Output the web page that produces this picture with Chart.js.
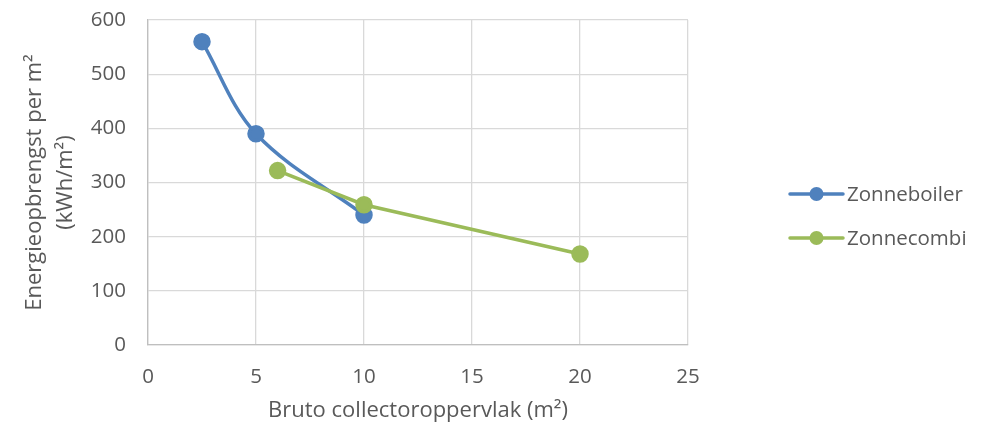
<!DOCTYPE html>
<html>
<head>
<meta charset="utf-8">
<script src="https://cdn.jsdelivr.net/npm/chart.js@4/dist/chart.umd.min.js"></script>
<style>
  html, body { margin: 0; padding: 0; background: #fff; }
  #wrap { width: 995px; height: 429px; }
</style>
</head>
<body>
<div id="wrap"><canvas id="c" width="995" height="429"></canvas></div>
<script>
// Collector area (m²) and yearly yield per m² (kWh/m²)
const seriesNames = ['Zonneboiler', 'Zonnecombi'];
const boilerArea = [2.5, 5, 10];
const boilerYield = [560, 390, 240];
const combiArea = [6, 10, 20];
const combiYield = [322, 259, 168];
const xTicks = [0, 5, 10, 15, 20, 25];
const yTicks = [0, 100, 200, 300, 400, 500, 600];

const colors = ['#4F81BD', '#9BBB59'];
const textColor = '#595959';
const fontFamily = "'Open Sans', 'Liberation Sans', sans-serif";

const toPoints = (xs, ys) => xs.map((x, i) => ({ x, y: ys[i] }));

// Legend to the right: short line with a marker in the middle, then the name
const sideLegend = {
  id: 'sideLegend',
  afterDraw(chart) {
    const ctx = chart.ctx;
    const x0 = 790, x1 = 843, startY = 194, gap = 44;
    chart.data.datasets.forEach((ds, i) => {
      const y = startY + i * gap;
      ctx.save();
      ctx.strokeStyle = ds.borderColor;
      ctx.lineWidth = 3.5;
      ctx.lineCap = 'round';
      ctx.beginPath();
      ctx.moveTo(x0, y);
      ctx.lineTo(x1, y);
      ctx.stroke();
      ctx.fillStyle = ds.pointBackgroundColor;
      ctx.beginPath();
      ctx.arc((x0 + x1) / 2, y, 7, 0, Math.PI * 2);
      ctx.fill();
      ctx.fillStyle = textColor;
      ctx.font = '20.5px ' + fontFamily;
      ctx.textBaseline = 'middle';
      ctx.textAlign = 'left';
      ctx.fillText(ds.label, x1 + 4, y + 1);
      ctx.restore();
    });
  }
};

new Chart(document.getElementById('c'), {
  type: 'scatter',
  data: {
    datasets: [
      {
        label: seriesNames[0],
        data: toPoints(boilerArea, boilerYield),
        showLine: true,
        tension: 0.35,
        borderColor: colors[0],
        backgroundColor: colors[0],
        pointBackgroundColor: colors[0],
        pointBorderColor: colors[0],
        borderWidth: 3.5,
        pointRadius: 7,
        pointHoverRadius: 7,
        order: 2
      },
      {
        label: seriesNames[1],
        data: toPoints(combiArea, combiYield),
        showLine: true,
        tension: 0,
        borderColor: colors[1],
        backgroundColor: colors[1],
        pointBackgroundColor: colors[1],
        pointBorderColor: colors[1],
        borderWidth: 3.5,
        pointRadius: 7,
        pointHoverRadius: 7,
        order: 1
      }
    ]
  },
  options: {
    responsive: false,
    animation: false,
    devicePixelRatio: 1,
    layout: { padding: { top: 20, right: 307, left: 0, bottom: 0 } },
    plugins: {
      legend: { display: false },
      tooltip: { enabled: false }
    },
    scales: {
      x: {
        type: 'linear',
        min: 0,
        max: 25,
        afterBuildTicks(axis) { axis.ticks = xTicks.map(v => ({ value: v })); },
        afterFit(axis) { axis.height = 84; },
        grid: { color: '#D9D9D9', lineWidth: 1.3, drawTicks: false },
        border: { color: '#BFBFBF', width: 1.3 },
        ticks: {
          color: textColor,
          font: { family: fontFamily, size: 20.5 },
          padding: 20,
          maxRotation: 0
        },
        title: {
          display: true,
          text: 'Bruto collectoroppervlak (m²)',
          color: textColor,
          font: { family: fontFamily, size: 22 },
          padding: { top: 0, bottom: 5 }
        }
      },
      y: {
        type: 'linear',
        min: 0,
        max: 600,
        afterBuildTicks(axis) { axis.ticks = yTicks.map(v => ({ value: v })); },
        afterFit(axis) {
          axis.width = 148;
          // the top label only needs half its own height above the plot
          axis.paddingTop = 12;
        },
        grid: { color: '#D9D9D9', lineWidth: 1.3, drawTicks: false },
        border: { color: '#BFBFBF', width: 1.3 },
        ticks: {
          color: textColor,
          font: { family: fontFamily, size: 20.5 },
          padding: 22
        },
        title: {
          display: true,
          text: ['Energieopbrengst per m²', '(kWh/m²)'],
          color: textColor,
          font: { family: fontFamily, size: 22, lineHeight: 1.4 },
          padding: { top: 19.5, bottom: 0 }
        }
      }
    }
  },
  plugins: [sideLegend]
});
</script>
</body>
</html>
